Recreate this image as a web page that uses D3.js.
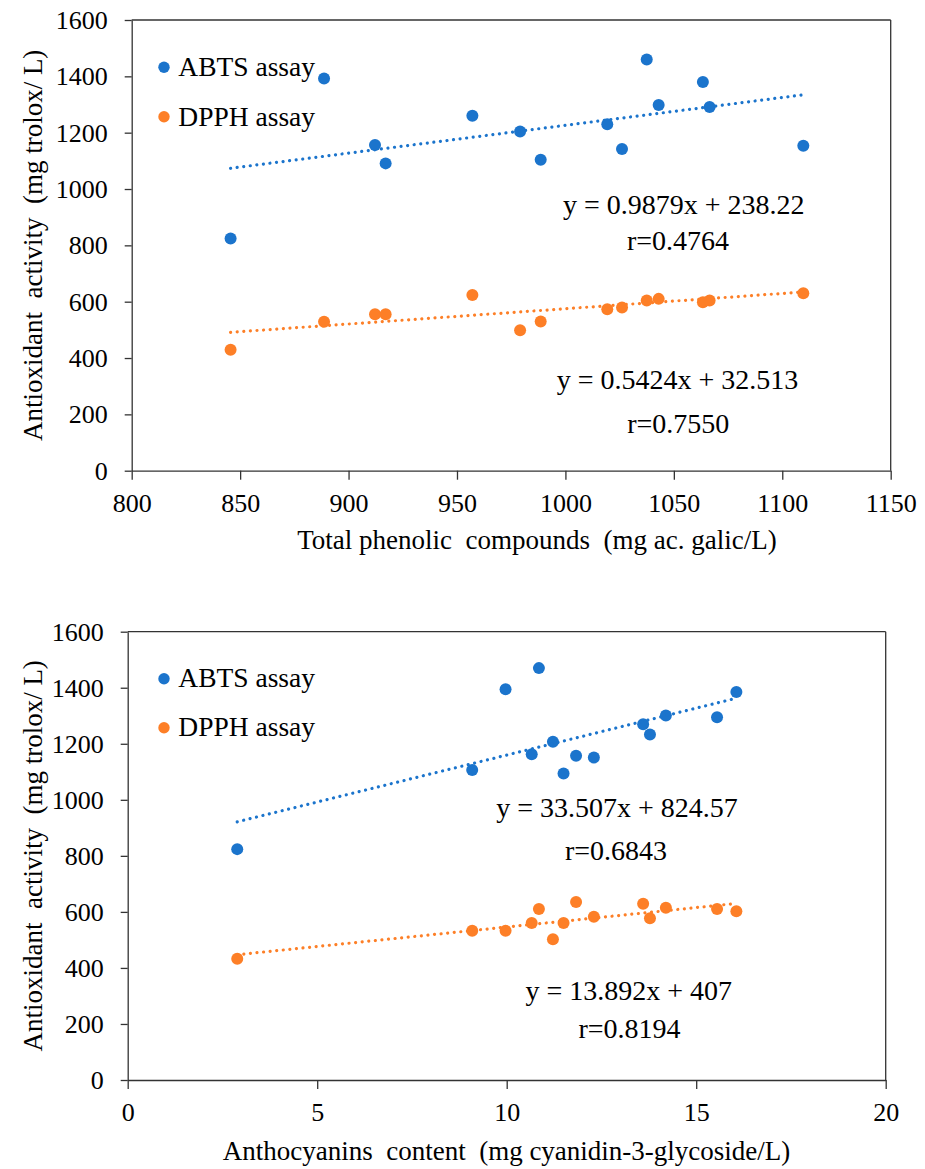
<!DOCTYPE html>
<html><head><meta charset="utf-8">
<script src="https://cdn.jsdelivr.net/npm/d3@7"></script>
<style>
body{margin:0;background:#fff;}
</style></head><body>
<svg id="chart" width="925" height="1169"></svg>
<script>
// ---------- DATA ----------
const phenolics   = [845.6, 888.7, 912.2, 917.1, 957.1, 979.1, 988.6, 1019.3, 1026.1, 1037.5, 1043.0, 1063.4, 1066.5, 1109.7];
const abtsTop     = [824, 1392, 1156, 1091, 1260, 1204, 1104, 1230, 1142, 1460, 1298, 1380, 1291, 1154];
const dpphTop     = [429, 529, 555, 555, 624, 499, 530, 573, 579, 604, 610, 598, 604, 630];

const anthocyanins = [2.89, 9.09, 9.97, 10.66, 10.85, 11.22, 11.50, 11.83, 12.30, 13.60, 13.78, 14.20, 15.55, 16.06];
const abtsBottom   = [824, 1106, 1395, 1163, 1470, 1207, 1094, 1157, 1151, 1270, 1233, 1301, 1295, 1385];
const dpphBottom   = [433, 533, 533, 560, 610, 502, 560, 635, 583, 629, 577, 615, 610, 602];

const seriesNames  = ["ABTS assay", "DPPH assay"];
const seriesColors = ["#1b74cc", "#fd7f27"];

const slopesTop     = [0.9879, 0.5424];
const interceptsTop = [238.22, 32.513];
const rTop          = ["0.4764", "0.7550"];
const slopesBottom     = [33.507, 13.892];
const interceptsBottom = [824.57, 407];
const rBottom          = ["0.6843", "0.8194"];

const yTicks        = [0, 200, 400, 600, 800, 1000, 1200, 1400, 1600];
const xTicksTop     = [800, 850, 900, 950, 1000, 1050, 1100, 1150];
const xTicksBottom  = [0, 5, 10, 15, 20];

const yTitle        = "Antioxidant  activity  (mg trolox/ L)";
const xTitleTop     = "Total phenolic  compounds  (mg ac. galic/L)";
const xTitleBottom  = "Anthocyanins  content  (mg cyanidin-3-glycoside/L)";

// ---------- LAYOUT ----------
const FONT = "'Liberation Serif', 'Times New Roman', 'DejaVu Serif', serif";
const panels = [
  {
    left: 131.7, right: 890.7, top: 20, bottom: 470.7,
    xDomain: [800, 1150], xTicks: xTicksTop, xVals: phenolics,
    series: [abtsTop, dpphTop], slopes: slopesTop, intercepts: interceptsTop, r: rTop,
    eqPos: [[683.7, 214], [677.5, 388.5]], rPos: [[678, 249.5], [678.3, 432.7]],
    xTitle: xTitleTop, xTitleX: 537, xTitleY: 549,
    legend: {dotX: 164, textX: 178.3, rows: [[67.3, 76], [116.7, 125.5]]}
  },
  {
    left: 127.7, right: 885.7, top: 631.7, bottom: 1080,
    xDomain: [0, 20], xTicks: xTicksBottom, xVals: anthocyanins,
    series: [abtsBottom, dpphBottom], slopes: slopesBottom, intercepts: interceptsBottom, r: rBottom,
    eqPos: [[617, 816.7], [628.7, 1000]], rPos: [[616, 860], [629.5, 1037.7]],
    xTitle: xTitleBottom, xTitleX: 506.5, xTitleY: 1160,
    legend: {dotX: 164, textX: 178.3, rows: [[678.7, 687], [727.7, 736]]}
  }
];

const svg = d3.select("#chart");
const axisColor = "#333";

function styleText(sel, size) {
  return sel.style("font-family", FONT).style("font-size", size + "px")
    .style("white-space", "pre").attr("fill", "#000");
}

function drawPanel(p) {
  const g = svg.append("g");
  const x = d3.scaleLinear().domain(p.xDomain).range([p.left, p.right]);
  const y = d3.scaleLinear().domain([0, 1600]).range([p.bottom, p.top]);

  // frame (top & right)
  g.append("line").attr("x1", p.left).attr("x2", p.right).attr("y1", p.top).attr("y2", p.top)
    .attr("stroke", axisColor).attr("stroke-width", 1.3);
  g.append("line").attr("x1", p.right).attr("x2", p.right).attr("y1", p.top).attr("y2", p.bottom)
    .attr("stroke", axisColor).attr("stroke-width", 1.3);

  // axes
  const ya = g.append("g").attr("transform", `translate(${p.left},0)`)
    .call(d3.axisLeft(y).tickValues(yTicks).tickFormat(d3.format("d")).tickSize(7).tickPadding(17).tickSizeOuter(0));
  const xa = g.append("g").attr("transform", `translate(0,${p.bottom})`)
    .call(d3.axisBottom(x).tickValues(p.xTicks).tickFormat(d3.format("d")).tickSize(9).tickPadding(14).tickSizeOuter(0));
  [ya, xa].forEach(a => {
    a.attr("font-family", FONT).attr("font-size", 26);
    a.selectAll("path, line").attr("stroke", axisColor).attr("stroke-width", 1.3);
    styleText(a.selectAll("text"), 26);
  });

  // points
  p.series.forEach((vals, i) => {
    g.append("g").selectAll("circle").data(vals).join("circle")
      .attr("cx", (d, j) => x(p.xVals[j]))
      .attr("cy", d => y(d))
      .attr("r", 6)
      .attr("fill", seriesColors[i]);
  });

  // trend lines
  const [xmin, xmax] = d3.extent(p.xVals);
  p.series.forEach((vals, i) => {
    const f = v => p.slopes[i] * v + p.intercepts[i];
    g.append("line")
      .attr("x1", x(xmin)).attr("y1", y(f(xmin)))
      .attr("x2", x(xmax)).attr("y2", y(f(xmax)))
      .attr("stroke", seriesColors[i]).attr("stroke-width", 3.2)
      .attr("stroke-linecap", "round").attr("stroke-dasharray", "0.01 6.6");
  });

  // legend
  seriesNames.forEach((name, i) => {
    const row = p.legend.rows[i];
    g.append("circle").attr("cx", p.legend.dotX).attr("cy", row[0]).attr("r", 5.7).attr("fill", seriesColors[i]);
    styleText(g.append("text").attr("x", p.legend.textX).attr("y", row[1]), 27.5).text(name);
  });

  // equations
  p.slopes.forEach((s, i) => {
    styleText(g.append("text").attr("x", p.eqPos[i][0]).attr("y", p.eqPos[i][1]).attr("text-anchor", "middle"), 28)
      .text(`y = ${s}x + ${p.intercepts[i]}`);
    styleText(g.append("text").attr("x", p.rPos[i][0]).attr("y", p.rPos[i][1]).attr("text-anchor", "middle"), 28)
      .text(`r=${p.r[i]}`);
  });

  // titles
  styleText(g.append("text").attr("x", p.xTitleX).attr("y", p.xTitleY).attr("text-anchor", "middle"), 27)
    .text(p.xTitle);
  styleText(g.append("text").attr("transform", `translate(42,${(p.top + p.bottom) / 2}) rotate(-90)`)
    .attr("text-anchor", "middle"), 27).text(yTitle);
}

panels.forEach(drawPanel);
</script>
</body></html>
